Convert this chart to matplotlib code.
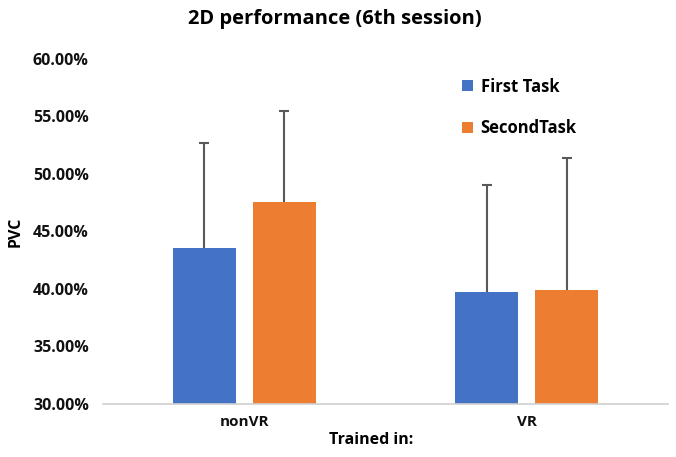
import numpy as np
import matplotlib.pyplot as plt
from matplotlib.ticker import FuncFormatter

plt.rcParams['font.family'] = ['Open Sans', 'DejaVu Sans']

groups = ['nonVR', 'VR']
first_task = [43.57, 39.74]
second_task = [47.57, 39.91]
first_err = [9.13, 9.30]
second_err = [7.91, 11.48]
series_names = ['First Task', 'SecondTask']

fig = plt.figure(figsize=(6.76, 4.57), dpi=100)
ax = fig.add_axes([0.152, 0.116, 0.836, 0.755])

x = np.arange(len(groups))
w = 0.223
off = 0.1416
err_style = dict(ecolor='#595959', elinewidth=1.5, capsize=3.5, capthick=1.5)
b1 = ax.bar(x - off, first_task, w, color='#4472C4', label=series_names[0],
            yerr=[np.zeros(2), first_err], error_kw=err_style)
b2 = ax.bar(x + off, second_task, w, color='#ED7D31', label=series_names[1],
            yerr=[np.zeros(2), second_err], error_kw=err_style)
# only the upper cap is wanted
for b in (b1, b2):
    b.errorbar.lines[1][0].set_visible(False)

ax.set_xlim(-0.5, 1.5)
ax.set_ylim(30, 60)
ax.set_yticks(np.arange(30, 61, 5))
ax.yaxis.set_major_formatter(FuncFormatter(lambda v, p: '%.2f%%' % v))
ax.set_xticks(x)
ax.set_xticklabels(groups)
ax.tick_params(axis='y', length=0, labelsize=11.5, pad=10)
ax.tick_params(axis='x', length=0, labelsize=11, pad=8)
for lab in ax.get_xticklabels() + ax.get_yticklabels():
    lab.set_fontweight('bold')
    lab.set_color('#111111')

for s in ['top', 'right', 'left']:
    ax.spines[s].set_visible(False)
ax.spines['bottom'].set_color('#d0d0d0')
ax.spines['bottom'].set_linewidth(1.2)

fig.suptitle('2D performance (6th session)', fontsize=14.5, fontweight='bold', x=0.495, y=0.98)
ax.set_xlabel('Trained in:', fontsize=11.5, fontweight='bold')
ax.xaxis.set_label_coords(0.474, -0.08)
ax.set_ylabel('PVC', fontsize=11.5, fontweight='bold')
ax.yaxis.set_label_coords(-0.14, 0.5)

leg = ax.legend(loc='upper left', bbox_to_anchor=(0.621, 0.97), frameon=False,
                borderpad=0, handlelength=0.66, handleheight=0.66, handletextpad=0.45,
                labelspacing=1.4, prop={'weight': 'bold', 'size': 12})

plt.savefig('out.png', dpi=100)
